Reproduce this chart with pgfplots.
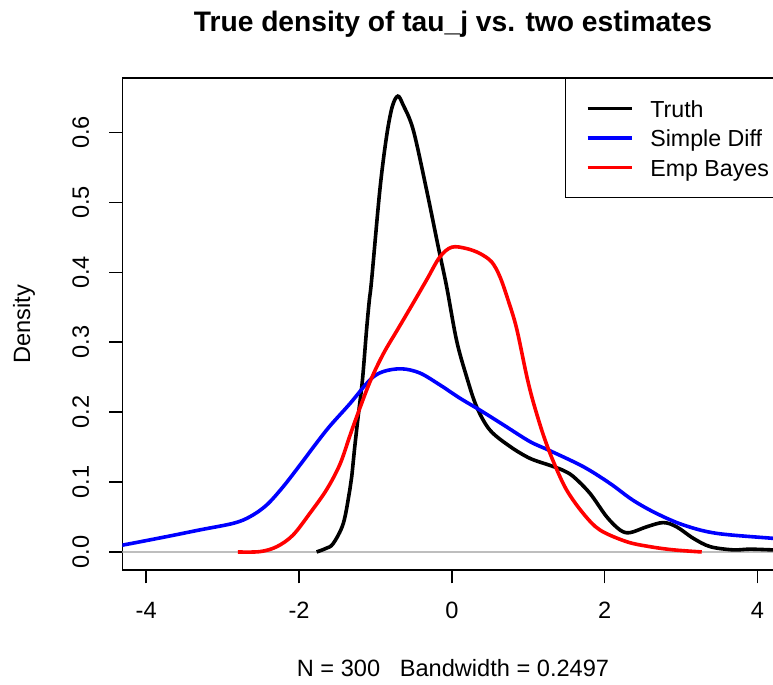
\documentclass[border=0pt]{standalone}
\usepackage{pgfplots}
\pgfplotsset{compat=1.18}
\usepackage{fontspec}
\setmainfont{Liberation Sans}
\definecolor{rblue}{RGB}{0,0,255}
\definecolor{rred}{RGB}{255,0,0}
\definecolor{rgray}{RGB}{190,190,190}

\begin{document}
\begin{tikzpicture}
\begin{axis}[
  at={(61.25pt,57.5pt)}, anchor=south west,
  scale only axis, width=330.5pt, height=246pt,
  xmin=-4.31, xmax=4.34, ymin=-0.0258, ymax=0.678,
  axis line style={line width=0.75pt},
  tick pos=left, tick align=outside,
  major tick length=6.67pt,
  tick style={line width=0.75pt, black},
  xtick={-4,-2,0,2,4},
  ytick={0,0.1,0.2,0.3,0.4,0.5,0.6},
  tick label style={font=\fontsize{11.8}{14}\selectfont, /pgf/number format/assume math mode=true},
  xticklabel shift=6pt,
  yticklabel style={rotate=90, anchor=south, /pgf/number format/.cd, fixed, fixed zerofill, precision=1},
  yticklabel shift=6.5pt,
  title={True density of tau\_j vs. two estimates},
  title style={at={(axis description cs:0.5,1.071)}, anchor=base, font=\bfseries\fontsize{14.1}{17}\selectfont},
  xlabel={N = 300~~~Bandwidth = 0.2497},
  xlabel style={at={(axis description cs:0.5,-0.2155)}, anchor=base, font=\fontsize{11.8}{14}\selectfont},
  ylabel={Density},
  ylabel style={at={(axis description cs:-0.1399,0.5)}, anchor=base, font=\fontsize{11.8}{14}\selectfont},
  legend image code/.code={\draw[#1] (0pt,0pt) -- (22pt,0pt);},
  legend style={at={(rel axis cs:0.6694,1)}, anchor=north west, draw=black, line width=0.75pt,
    inner xsep=10pt, inner ysep=10.62pt, row sep=6.15pt,
    font=\fontsize{11.6}{14}\selectfont,
    nodes={inner sep=0pt, text height=8.6pt, text depth=0pt, anchor=west},
    /tikz/every odd column/.append style={column sep=8.5pt}},
  legend cell align=left,
]
\addplot[rgray, line width=0.75pt, forget plot] coordinates {(-4.5,0) (4.5,0)};

\addplot[black, line width=1.8pt, smooth, tension=0.55] coordinates {
(-1.77,0) (-1.65,0.005) (-1.553,0.012) (-1.42,0.041) (-1.335,0.089) (-1.31,0.108)
(-1.27,0.151) (-1.226,0.194) (-1.17,0.246) (-1.116,0.318) (-1.08,0.360) (-1.05,0.389)
(-0.942,0.518) (-0.855,0.594) (-0.78,0.637) (-0.707,0.652) (-0.64,0.640) (-0.506,0.604)
(-0.331,0.518) (-0.179,0.437) (-0.069,0.380) (0.061,0.303) (0.192,0.251) (0.323,0.208)
(0.497,0.1745) (0.76,0.151) (1.02,0.134) (1.28,0.124) (1.45,0.117) (1.588,0.108)
(1.806,0.084) (2.025,0.0505) (2.2,0.0315) (2.33,0.0276) (2.55,0.036) (2.766,0.042)
(2.94,0.036) (3.16,0.0195) (3.38,0.0076) (3.68,0.003) (3.9,0.004) (4.2,0.003) (4.4,0.003)
};
\addlegendentry{Truth}

\addplot[rblue, line width=1.8pt, smooth, tension=0.55] coordinates {
(-4.4,0.009) (-4.30,0.010) (-3.73,0.022) (-3.30,0.0315) (-2.86,0.041) (-2.64,0.0505)
(-2.425,0.067) (-2.21,0.093) (-1.99,0.124) (-1.77,0.156) (-1.597,0.180) (-1.335,0.212)
(-1.073,0.246) (-0.899,0.258) (-0.658,0.262) (-0.419,0.256) (-0.157,0.239) (0.105,0.220)
(0.366,0.203) (0.672,0.182) (1.02,0.158) (1.28,0.145) (1.72,0.122) (2.07,0.098)
(2.37,0.074) (2.68,0.055) (3.03,0.0386) (3.46,0.0267) (4.2,0.0195) (4.5,0.017)
};
\addlegendentry{Simple Diff}

\addplot[rred, line width=1.8pt, smooth, tension=0.55] coordinates {
(-2.80,0) (-2.51,0.0005) (-2.29,0.0076) (-2.08,0.024) (-1.86,0.055) (-1.64,0.089)
(-1.466,0.125) (-1.335,0.166) (-1.25,0.192) (-1.073,0.243) (-0.899,0.283)
(-0.70,0.320) (-0.506,0.356) (-0.331,0.389) (-0.157,0.422) (0,0.436) (0.192,0.434)
(0.366,0.427) (0.52,0.415) (0.628,0.394) (0.737,0.36) (0.847,0.32) (0.977,0.253)
(1.064,0.215) (1.195,0.168) (1.326,0.130) (1.5,0.089) (1.72,0.055) (1.937,0.0315)
(2.287,0.0147) (2.59,0.0076) (2.9,0.003) (3.27,0)
};
\addlegendentry{Emp Bayes}
\end{axis}
\pgfresetboundingbox
\path[use as bounding box] (0,0) rectangle (386.5pt,342.5pt);
\end{tikzpicture}
\end{document}
